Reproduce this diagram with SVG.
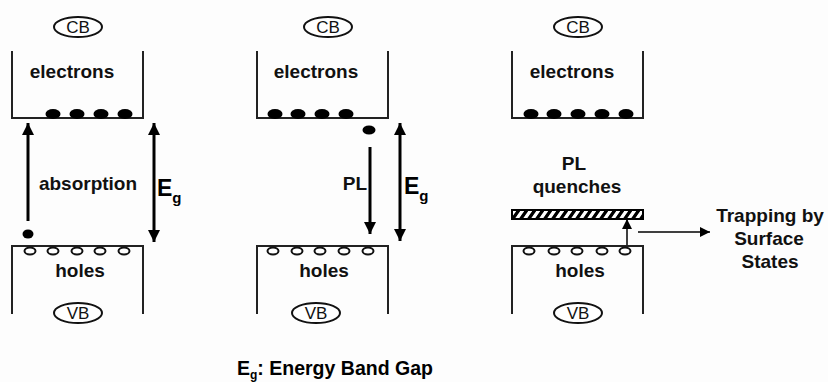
<svg xmlns="http://www.w3.org/2000/svg" width="828" height="382" viewBox="0 0 828 382">
<style>
.bg{fill:#fdfdfd}
.box{fill:none;stroke:#222;stroke-width:2}
.lbl{font-family:"Liberation Sans",Arial,sans-serif;font-weight:bold;font-size:19px;fill:#111;text-anchor:middle}
.band{font-family:"Liberation Sans",Arial,sans-serif;font-size:17px;fill:#111;text-anchor:middle}
.oval{fill:#fff;stroke:#111;stroke-width:2}
.el{fill:#000}
.hole{fill:#fff;stroke:#111;stroke-width:2}
.arr{stroke:#000;stroke-width:3;fill:none}
.thin{stroke:#000;stroke-width:1.5;fill:none}
.eg{font-family:"Liberation Sans",Arial,sans-serif;font-weight:bold;fill:#000}
</style>
<defs>
<marker id="ah" markerUnits="userSpaceOnUse" markerWidth="12" markerHeight="14" refX="12" refY="6" orient="auto-start-reverse" viewBox="0 0 12 12">
<path d="M0,0 L12,6 L0,12 z" fill="#000"/>
</marker>
<marker id="ahs" markerUnits="userSpaceOnUse" markerWidth="10" markerHeight="10" refX="10" refY="5" orient="auto" viewBox="0 0 10 10">
<path d="M0,0 L10,5 L0,10 z" fill="#000"/>
</marker>
<pattern id="hatch" patternUnits="userSpaceOnUse" width="8" height="10" patternTransform="skewX(-35)">
<rect width="8" height="10" fill="#fff"/>
<rect x="0" y="0" width="4" height="10" fill="#000"/>
</pattern>
</defs>
<rect class="bg" x="0" y="0" width="828" height="382"/>

<g id="panel1">
<g id="cb1">
<ellipse class="oval" cx="78" cy="27" rx="24" ry="10"/>
<text class="band" x="78" y="33">CB</text>
</g>
<g id="cbbox1">
<path class="box" d="M12,51 V118 H143 V51"/>
<text class="lbl" x="72" y="78">electrons</text>
<ellipse class="el" cx="53" cy="114" rx="7.5" ry="5"/>
<ellipse class="el" cx="77" cy="114" rx="7.5" ry="5"/>
<ellipse class="el" cx="101" cy="114" rx="7.5" ry="5"/>
<ellipse class="el" cx="125" cy="114" rx="7.5" ry="5"/>
</g>
<g id="vbbox1">
<path class="box" d="M12,314 V246 H143 V314"/>
<ellipse class="hole" cx="30" cy="251" rx="5.5" ry="3.5"/>
<ellipse class="hole" cx="53" cy="251" rx="5.5" ry="3.5"/>
<ellipse class="hole" cx="77" cy="251" rx="5.5" ry="3.5"/>
<ellipse class="hole" cx="100" cy="251" rx="5.5" ry="3.5"/>
<ellipse class="hole" cx="124" cy="251" rx="5.5" ry="3.5"/>
<text class="lbl" x="80" y="277">holes</text>
</g>
<g id="vb1">
<ellipse class="oval" cx="78" cy="313" rx="24" ry="10"/>
<text class="band" x="78" y="319">VB</text>
</g>
<ellipse class="el" cx="28" cy="234" rx="5.5" ry="4.5"/>
<text class="lbl" x="88" y="190">absorption</text>
<text class="eg" x="157" y="196" font-size="23">E<tspan font-size="15" dy="7">g</tspan></text>
</g>

<g id="panel2">
<g id="cb2">
<ellipse class="oval" cx="328" cy="27" rx="24" ry="10"/>
<text class="band" x="328" y="33">CB</text>
</g>
<g id="cbbox2">
<path class="box" d="M257,51 V118 H388 V51"/>
<text class="lbl" x="316" y="78">electrons</text>
<ellipse class="el" cx="275" cy="114" rx="7.5" ry="5"/>
<ellipse class="el" cx="298" cy="114" rx="7.5" ry="5"/>
<ellipse class="el" cx="322" cy="114" rx="7.5" ry="5"/>
<ellipse class="el" cx="346" cy="114" rx="7.5" ry="5"/>
</g>
<g id="vbbox2">
<path class="box" d="M257,314 V246 H388 V314"/>
<ellipse class="hole" cx="273" cy="251" rx="5.5" ry="3.5"/>
<ellipse class="hole" cx="297" cy="251" rx="5.5" ry="3.5"/>
<ellipse class="hole" cx="320" cy="251" rx="5.5" ry="3.5"/>
<ellipse class="hole" cx="344" cy="251" rx="5.5" ry="3.5"/>
<ellipse class="hole" cx="368" cy="251" rx="5.5" ry="3.5"/>
<text class="lbl" x="324" y="277">holes</text>
</g>
<g id="vb2">
<ellipse class="oval" cx="316" cy="313" rx="24" ry="10"/>
<text class="band" x="316" y="319">VB</text>
</g>
<ellipse class="el" cx="369" cy="130" rx="6.5" ry="4.5"/>
<text class="lbl" x="355" y="190">PL</text>
<text class="eg" x="404" y="194" font-size="23">E<tspan font-size="15" dy="7">g</tspan></text>
</g>

<g id="panel3">
<g id="cb3">
<ellipse class="oval" cx="578" cy="27" rx="24" ry="10"/>
<text class="band" x="578" y="33">CB</text>
</g>
<g id="cbbox3">
<path class="box" d="M512,51 V118 H643 V51"/>
<text class="lbl" x="572" y="78">electrons</text>
<ellipse class="el" cx="531" cy="114" rx="7.5" ry="5"/>
<ellipse class="el" cx="554" cy="114" rx="7.5" ry="5"/>
<ellipse class="el" cx="578" cy="114" rx="7.5" ry="5"/>
<ellipse class="el" cx="602" cy="114" rx="7.5" ry="5"/>
<ellipse class="el" cx="626" cy="114" rx="7.5" ry="5"/>
</g>
<g id="trap">
<rect x="512" y="210" width="131" height="9" fill="url(#hatch)" stroke="#000" stroke-width="2"/>
<text class="lbl" x="574" y="170">PL</text>
<text class="lbl" x="577" y="193">quenches</text>
</g>
<g id="vbbox3">
<path class="box" d="M512,314 V246 H643 V314"/>
<ellipse class="hole" cx="529" cy="251" rx="5.5" ry="3.5"/>
<ellipse class="hole" cx="554" cy="251" rx="5.5" ry="3.5"/>
<ellipse class="hole" cx="577" cy="251" rx="5.5" ry="3.5"/>
<ellipse class="hole" cx="602" cy="251" rx="5.5" ry="3.5"/>
<ellipse class="hole" cx="625" cy="251" rx="5.5" ry="3.5"/>
<text class="lbl" x="580" y="277">holes</text>
</g>
<g id="vb3">
<ellipse class="oval" cx="578" cy="313" rx="24" ry="10"/>
<text class="band" x="578" y="319">VB</text>
</g>
<g id="surface">
<text class="lbl" x="770" y="222">Trapping by</text>
<text class="lbl" x="769" y="245">Surface</text>
<text class="lbl" x="770" y="268">States</text>
</g>
</g>

<g id="connectors">
<line class="arr" x1="28" y1="221" x2="28" y2="123" marker-end="url(#ah)"/>
<line class="arr" x1="154" y1="123" x2="154" y2="242" marker-start="url(#ah)" marker-end="url(#ah)"/>
<line class="arr" x1="370" y1="147" x2="370" y2="234" marker-end="url(#ah)"/>
<line class="arr" x1="400" y1="123" x2="400" y2="241" marker-start="url(#ah)" marker-end="url(#ah)"/>
<line class="thin" x1="627" y1="245" x2="627" y2="219" marker-end="url(#ahs)"/>
<line class="thin" x1="638" y1="232" x2="710" y2="232" marker-end="url(#ahs)"/>
</g>

<g id="legend">
<text class="eg" x="237" y="375" font-size="19.5">E<tspan font-size="12" dy="4">g</tspan><tspan dy="-4">: Energy Band Gap</tspan></text>
</g>
</svg>
